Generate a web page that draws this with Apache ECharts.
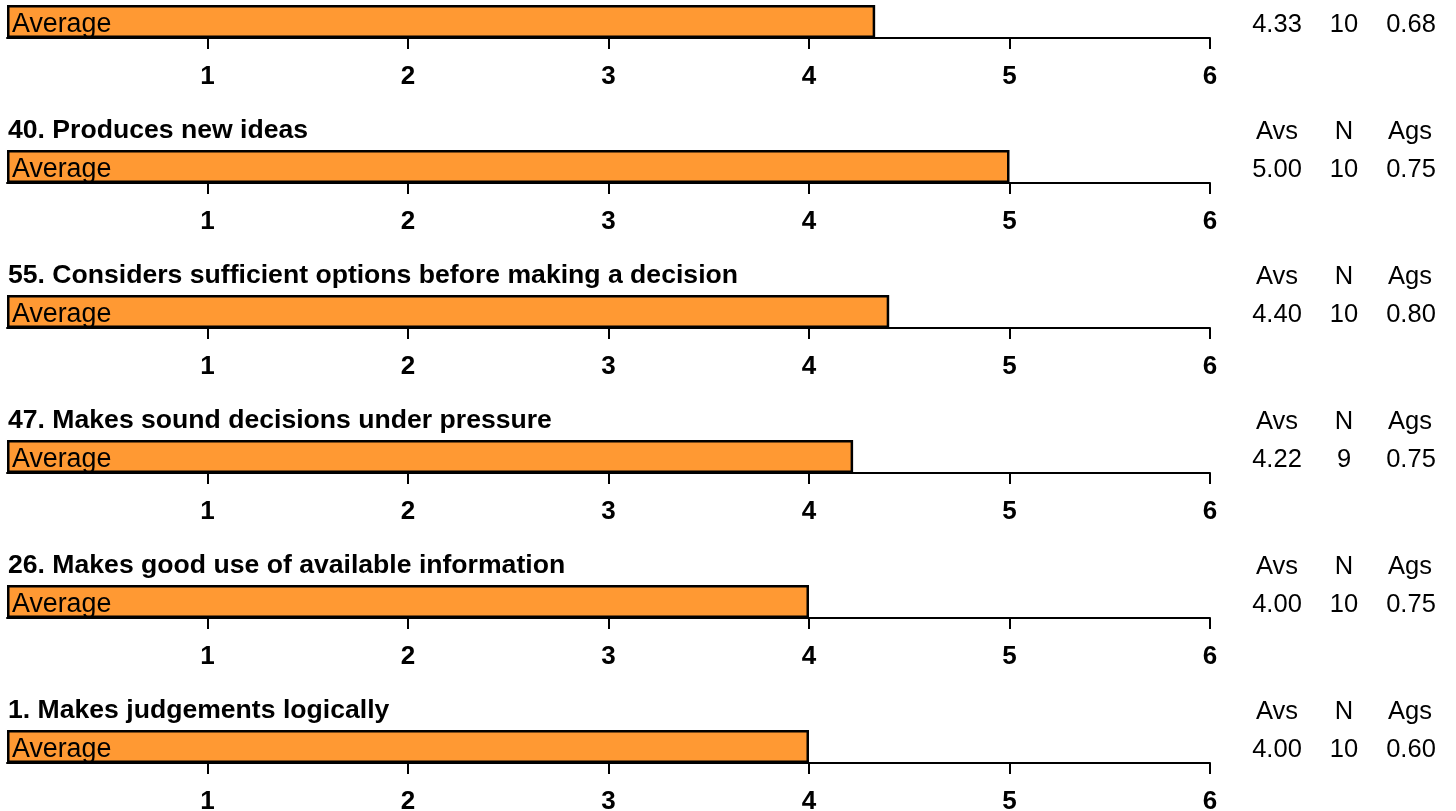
<!DOCTYPE html>
<html>
<head>
<meta charset="utf-8">
<script src="https://cdn.jsdelivr.net/npm/echarts@6/dist/echarts.min.js"></script>
<style>
  html, body { margin: 0; padding: 0; background: #ffffff; }
  #chart { width: 1456px; height: 811px; }
</style>
</head>
<body>
<div id="chart"></div>
<script>
// Item statements (the first one sits above the visible page, so it has no heading)
const itemTitles = [
  null,
  '40. Produces new ideas',
  '55. Considers sufficient options before making a decision',
  '47. Makes sound decisions under pressure',
  '26. Makes good use of available information',
  '1. Makes judgements logically'
];
// Average score per item
const averages = [4.33, 5.00, 4.40, 4.22, 4.00, 4.00];
// Number of respondents per item
const counts = [10, 10, 10, 9, 10, 10];
// Agreement per item
const agreements = [0.68, 0.75, 0.80, 0.75, 0.75, 0.60];
// Bar caption and scale ticks
const barCaption = 'Average';
const scaleTicks = [1, 2, 3, 4, 5, 6];
const tableHeads = ['Avs', 'N', 'Ags'];

const FONT = '"Liberation Sans", Arial, Helvetica, sans-serif';
const ORANGE = '#FF9933';
const PANEL_TOP = 5, PANEL_STEP = 145, BAR_H = 33;
const PLOT_LEFT = 7, PLOT_RIGHT = 1210;
const COL_X = [1277, 1344, 1410];

const grids = [], xAxes = [], yAxes = [], series = [], graphics = [];

averages.forEach((avg, i) => {
  const top = PANEL_TOP + PANEL_STEP * i;
  grids.push({ left: PLOT_LEFT, width: PLOT_RIGHT - PLOT_LEFT, top: top, height: BAR_H,
               containLabel: false, outerBoundsMode: 'none' });
  xAxes.push({
    gridIndex: i, type: 'value', min: 0, max: 6, interval: 1,
    axisLine: { show: true, lineStyle: { color: '#000', width: 2 } },
    axisTick: { show: true, length: 11, lineStyle: { color: '#000', width: 2 }, customValues: scaleTicks },
    axisLabel: { show: true, customValues: scaleTicks, margin: 26, color: '#000',
                 fontFamily: FONT, fontSize: 26, fontWeight: 'bold' },
    splitLine: { show: false }
  });
  yAxes.push({
    gridIndex: i, type: 'category', data: [barCaption], show: false
  });
  series.push({
    type: 'bar', xAxisIndex: i, yAxisIndex: i, barWidth: '100%',
    data: [avg],
    itemStyle: { color: ORANGE, borderColor: '#000', borderWidth: 2.5 },
    label: { show: true, position: 'insideLeft', distance: 5, offset: [0, 3],
             formatter: barCaption, color: '#000', fontFamily: FONT, fontSize: 26.8 },
    silent: true, animation: false
  });

  // Item heading above the bar
  if (itemTitles[i]) {
    graphics.push({ type: 'text', x: 8, y: top - 19,
      style: { text: itemTitles[i], fill: '#000', font: 'bold 26.6px ' + FONT, align: 'left', verticalAlign: 'middle' } });
  }
  // Summary table: header row (only when the heading row is on the page) and value row
  if (top - 19 > 0) {
    tableHeads.forEach((h, c) => {
      graphics.push({ type: 'text', x: COL_X[c], y: top - 18,
        style: { text: h, fill: '#000', font: '25.5px ' + FONT, align: 'center', verticalAlign: 'middle' } });
    });
  }
  const row = [avg.toFixed(2), String(counts[i]), agreements[i].toFixed(2)];
  row.forEach((v, c) => {
    graphics.push({ type: 'text', x: COL_X[c] + (c === 2 ? 1 : 0), y: top + 20,
      style: { text: v, fill: '#000', font: '25.5px ' + FONT, align: 'center', verticalAlign: 'middle' } });
  });
});

const chart = echarts.init(document.getElementById('chart'), null, { renderer: 'canvas' });
chart.setOption({
  animation: false,
  backgroundColor: '#ffffff',
  grid: grids,
  xAxis: xAxes,
  yAxis: yAxes,
  series: series,
  graphic: graphics
});
</script>
</body>
</html>
